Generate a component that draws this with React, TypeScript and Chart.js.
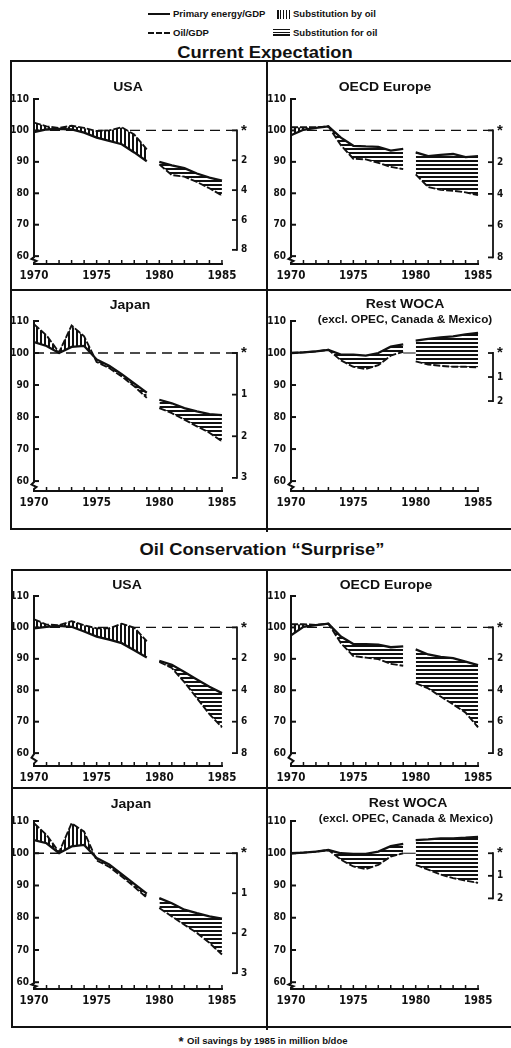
import React, { useEffect, useRef } from "react";
import { Chart, registerables } from "chart.js";

Chart.register(...registerables);

// ---------------- data ----------------
const years1 = [1970, 1971, 1972, 1973, 1974, 1975, 1976, 1977, 1978, 1979];
const years2 = [1980, 1981, 1982, 1983, 1984, 1985];
const xTickYears = [1970, 1975, 1980, 1985];
const yTickValues = [60, 70, 80, 90, 100, 110];
const savingsTicksLarge = [0, 2, 4, 6, 8];
const savingsTicksJapan = [0, 1, 2, 3];
const savingsTicksWoca = [0, 1, 2];
const referenceLevel = 100;

// Current expectation
const usaCurEnergy1 = [99.5, 100.3, 100.5, 100.3, 99.3, 97.7, 96.7, 95.6, 93.0, 90.2];
const usaCurOil1 = [102.5, 101.3, 100.8, 101.5, 100.8, 99.8, 100.0, 101.0, 98.7, 94.0];
const usaCurEnergy2 = [90.0, 88.9, 88.0, 86.3, 85.0, 84.0];
const usaCurOil2 = [89.2, 85.8, 85.3, 83.6, 81.6, 79.3];

const eurCurEnergy1 = [98.5, 100.2, 100.8, 101.3, 97.7, 95.1, 94.9, 94.8, 93.6, 94.1];
const eurCurOil1 = [101.0, 101.0, 101.0, 101.3, 95.3, 91.0, 90.8, 89.7, 88.4, 87.7];
const eurCurEnergy2 = [93.0, 91.8, 92.2, 92.5, 91.5, 91.8];
const eurCurOil2 = [86.0, 82.0, 81.1, 80.8, 80.3, 79.4];

const jpnCurEnergy1 = [103.4, 102.2, 100.0, 101.9, 102.2, 98.0, 96.0, 93.4, 90.5, 87.6];
const jpnCurOil1 = [109.0, 105.5, 100.2, 108.6, 105.2, 97.2, 95.3, 92.7, 89.6, 86.0];
const jpnCurEnergy2 = [85.4, 84.3, 82.8, 81.8, 80.9, 80.6];
const jpnCurOil2 = [82.8, 81.2, 79.2, 77.1, 75.1, 72.4];

const wocCurEnergy1 = [100.0, 100.2, 100.5, 101.0, 99.5, 99.5, 99.2, 100.0, 102.0, 102.7];
const wocCurOil1 = [100.0, 100.2, 100.5, 101.0, 97.7, 95.7, 95.0, 96.2, 99.2, 100.4];
const wocCurEnergy2 = [103.9, 104.4, 104.9, 105.2, 105.8, 106.3];
const wocCurOil2 = [97.4, 96.4, 96.0, 95.7, 95.7, 95.5];

// Oil conservation "surprise"
const usaSurEnergy1 = [99.7, 100.2, 100.5, 100.2, 98.7, 97.1, 96.1, 95.0, 92.7, 90.4];
const usaSurOil1 = [102.6, 100.9, 100.7, 102.0, 100.7, 99.7, 99.7, 101.2, 99.9, 95.6];
const usaSurEnergy2 = [89.4, 88.1, 85.8, 83.4, 81.1, 79.1];
const usaSurOil2 = [89.0, 87.1, 82.6, 77.5, 72.4, 68.2];

const eurSurEnergy1 = [97.5, 100.2, 100.7, 101.2, 97.1, 94.7, 94.7, 94.5, 93.7, 94.0];
const eurSurOil1 = [101.0, 101.0, 100.8, 101.2, 95.0, 90.9, 90.4, 89.9, 88.4, 87.8];
const eurSurEnergy2 = [93.0, 91.4, 90.6, 90.2, 89.1, 88.0];
const eurSurOil2 = [82.3, 80.6, 78.0, 75.5, 72.9, 68.2];

const jpnSurEnergy1 = [104.1, 103.1, 100.0, 102.1, 102.6, 98.5, 96.5, 93.5, 90.5, 87.5];
const jpnSurOil1 = [109.3, 105.7, 100.3, 109.3, 106.7, 97.8, 95.8, 92.8, 89.6, 86.2];
const jpnSurEnergy2 = [86.1, 84.5, 82.5, 81.4, 80.4, 79.7];
const jpnSurOil2 = [83.0, 80.4, 77.8, 75.3, 72.2, 68.6];

const wocSurEnergy1 = [100.0, 100.2, 100.5, 101.0, 100.0, 99.8, 99.8, 100.5, 102.2, 102.9];
const wocSurOil1 = [100.0, 100.2, 100.5, 101.0, 98.0, 95.9, 95.1, 96.4, 99.0, 100.0];
const wocSurEnergy2 = [104.1, 104.3, 104.6, 104.6, 104.8, 105.1];
const wocSurOil2 = [96.4, 94.9, 93.4, 92.3, 91.5, 90.8];

const legendEnergy = "Primary energy/GDP";
const legendOil = "Oil/GDP";
const legendBy = "Substitution by oil";
const legendFor = "Substitution for oil";
const sectionTitles = ["Current Expectation", "Oil Conservation \u201cSurprise\u201d"];
const footnote = "Oil savings by 1985 in million b/doe";

// ---------------- layout / style ----------------
const INK = "#111111";
const XMAX = 1986.2;
const SANS = "'Liberation Sans', Arial, Helvetica, sans-serif";
const NARROW = "'Liberation Sans Narrow', 'DejaVu Sans Condensed', 'Liberation Sans', sans-serif";

type PanelSpec = {
  id: string;
  titles: { text: string; x: number; y: number; size: number }[];
  left: number;
  top: number;
  width: number;
  height: number;
  plotLeft: number;
  plotRight: number;
  plotTop: number;
  plotBottom: number;
  yMin: number;
  k: number;
  savings: number[];
  refDashed: boolean;
  e1: number[];
  o1: number[];
  e2: number[];
  o2: number[];
};

const colL = { left: 0, width: 266, plotLeft: 34, plotRight: 237 };
const colR = { left: 262, width: 249, plotLeft: 291, plotRight: 493 };
const row1 = { top: 88, height: 198, plotTop: 96, plotBottom: 264, yMin: 57.5 };
const row2 = { top: 310, height: 203, plotTop: 318, plotBottom: 491, yMin: 56.9 };
const row3 = { top: 585, height: 203, plotTop: 593, plotBottom: 766, yMin: 55.9 };
const row4 = { top: 810, height: 201, plotTop: 818, plotBottom: 989, yMin: 57.9 };

const panels: PanelSpec[] = [
  {
    id: "usaCur", titles: [{ text: "USA", x: 128, y: 87, size: 12.5 }], ...colL, ...row1,
    k: 4.75, savings: savingsTicksLarge, refDashed: true,
    e1: usaCurEnergy1, o1: usaCurOil1, e2: usaCurEnergy2, o2: usaCurOil2,
  },
  {
    id: "eurCur", titles: [{ text: "OECD Europe", x: 385, y: 87, size: 12.5 }], ...colR, ...row1,
    k: 5.05, savings: savingsTicksLarge, refDashed: true,
    e1: eurCurEnergy1, o1: eurCurOil1, e2: eurCurEnergy2, o2: eurCurOil2,
  },
  {
    id: "jpnCur", titles: [{ text: "Japan", x: 130, y: 305, size: 12.5 }], ...colL, ...row2,
    k: 13, savings: savingsTicksJapan, refDashed: true,
    e1: jpnCurEnergy1, o1: jpnCurOil1, e2: jpnCurEnergy2, o2: jpnCurOil2,
  },
  {
    id: "wocCur",
    titles: [
      { text: "Rest WOCA", x: 405, y: 304, size: 12.5 },
      { text: "(excl. OPEC, Canada & Mexico)", x: 405, y: 319, size: 10.5 },
    ],
    ...colR, ...row2,
    k: 7.5, savings: savingsTicksWoca, refDashed: false,
    e1: wocCurEnergy1, o1: wocCurOil1, e2: wocCurEnergy2, o2: wocCurOil2,
  },
  {
    id: "usaSur", titles: [{ text: "USA", x: 127, y: 585, size: 12.5 }], ...colL, ...row3,
    k: 5, savings: savingsTicksLarge, refDashed: true,
    e1: usaSurEnergy1, o1: usaSurOil1, e2: usaSurEnergy2, o2: usaSurOil2,
  },
  {
    id: "eurSur", titles: [{ text: "OECD Europe", x: 386, y: 585, size: 12.5 }], ...colR, ...row3,
    k: 5, savings: savingsTicksLarge, refDashed: true,
    e1: eurSurEnergy1, o1: eurSurOil1, e2: eurSurEnergy2, o2: eurSurOil2,
  },
  {
    id: "jpnSur", titles: [{ text: "Japan", x: 131, y: 804, size: 12.5 }], ...colL, ...row4,
    k: 12.4, savings: savingsTicksJapan, refDashed: true,
    e1: jpnSurEnergy1, o1: jpnSurOil1, e2: jpnSurEnergy2, o2: jpnSurOil2,
  },
  {
    id: "wocSur",
    titles: [
      { text: "Rest WOCA", x: 408, y: 803, size: 12.5 },
      { text: "(excl. OPEC, Canada & Mexico)", x: 406, y: 818, size: 10.5 },
    ],
    ...colR, ...row4,
    k: 7, savings: savingsTicksWoca, refDashed: false,
    e1: wocSurEnergy1, o1: wocSurOil1, e2: wocSurEnergy2, o2: wocSurOil2,
  },
];

function makeHatch(vertical: boolean): CanvasPattern | string {
  const c = document.createElement("canvas");
  c.width = 4;
  c.height = 4;
  const g = c.getContext("2d");
  if (!g) return "#888";
  g.fillStyle = "#ffffff";
  g.fillRect(0, 0, 4, 4);
  g.fillStyle = INK;
  if (vertical) g.fillRect(0, 0, 2, 4);
  else g.fillRect(0, 0, 4, 2);
  return g.createPattern(c, "repeat") || "#888";
}

function makeDeco(spec: PanelSpec) {
  return {
    id: "axisDeco",
    afterDraw(chart: any) {
      const { ctx, chartArea } = chart;
      const xs = chart.scales.x;
      const ys = chart.scales.y;
      const ys2 = chart.scales.y2;
      const ax = xs.getPixelForValue(1970);
      const bottom = chartArea.bottom;
      const yTop = ys.getPixelForValue(110);
      const y60 = ys.getPixelForValue(60);
      ctx.save();
      ctx.strokeStyle = INK;
      ctx.lineWidth = 2;
      ctx.lineCap = "butt";
      const gap = bottom - y60;
      ctx.beginPath();
      ctx.moveTo(ax, yTop - 1);
      ctx.lineTo(ax, y60 + 1);
      ctx.lineTo(ax - 2.5, y60 + gap * 0.35);
      ctx.lineTo(ax + 2.5, y60 + gap * 0.6);
      ctx.lineTo(ax, y60 + gap * 0.8);
      ctx.lineTo(ax, bottom);
      ctx.stroke();
      for (const v of yTickValues) {
        const py = ys.getPixelForValue(v);
        ctx.beginPath();
        ctx.moveTo(ax, py);
        ctx.lineTo(ax + 5, py);
        ctx.stroke();
      }
      const x85 = xs.getPixelForValue(1985);
      ctx.beginPath();
      ctx.moveTo(ax - 1, bottom);
      ctx.lineTo(x85 + 1, bottom);
      ctx.stroke();
      ctx.lineWidth = 1.5;
      for (let yr = 1971; yr <= 1985; yr++) {
        const px = xs.getPixelForValue(yr);
        ctx.beginPath();
        ctx.moveTo(px, bottom);
        ctx.lineTo(px, bottom - 4);
        ctx.stroke();
      }
      const rx = chartArea.right;
      const t = spec.savings;
      const r0 = ys2.getPixelForValue(t[0]);
      const r1 = ys2.getPixelForValue(t[t.length - 1]);
      ctx.lineWidth = 1.8;
      ctx.beginPath();
      ctx.moveTo(rx, r0 - 0.9);
      ctx.lineTo(rx, r1 + 0.9);
      ctx.stroke();
      for (const v of t) {
        const py = ys2.getPixelForValue(v);
        ctx.beginPath();
        ctx.moveTo(rx - 5, py);
        ctx.lineTo(rx, py);
        ctx.stroke();
      }
      ctx.restore();
    },
  };
}

function PanelChart({ spec }: { spec: PanelSpec }) {
  const ref = useRef<HTMLCanvasElement>(null);
  useEffect(() => {
    const canvas = ref.current;
    if (!canvas) return;
    const hatchV = makeHatch(true);
    const hatchH = makeHatch(false);
    const pts = (xs: number[], ys: number[]) => xs.map((x, i) => ({ x, y: ys[i] }));
    const base = { pointRadius: 0, pointHoverRadius: 0, tension: 0, xAxisID: "x", yAxisID: "y" };
    const energyStyle = { ...base, borderColor: INK, borderWidth: 2.3, order: 1 };
    const oilStyle = { ...base, borderColor: INK, borderWidth: 1.9, borderDash: [7, 2], fill: false, order: 0 };
    const refData = spec.refDashed
      ? [{ x: 1970, y: referenceLevel }, { x: XMAX, y: referenceLevel }]
      : [{ x: 1979, y: referenceLevel }, { x: 1980, y: referenceLevel }];
    const datasets: any[] = [
      { ...energyStyle, label: legendEnergy, data: pts(years1, spec.e1), fill: { target: 1, above: hatchH, below: hatchV } },
      { ...oilStyle, label: legendOil, data: pts(years1, spec.o1) },
      { ...energyStyle, label: legendEnergy, data: pts(years2, spec.e2), fill: { target: 3, above: hatchH, below: hatchV } },
      { ...oilStyle, label: legendOil, data: pts(years2, spec.o2) },
      {
        ...base, label: "ref", data: refData, borderColor: INK,
        borderWidth: spec.refDashed ? 1.3 : 1, borderDash: spec.refDashed ? [10, 6] : [], fill: false, order: 2,
      },
    ];
    const tickFontY = { family: NARROW, size: 10, weight: "bold" as const };
    const tickFontX = { family: NARROW, size: 11.5, weight: "bold" as const };
    const starFont = { family: SANS, size: 15, weight: "bold" as const };
    const chart = new Chart(canvas, {
      type: "line",
      data: { datasets },
      options: {
        animation: false,
        responsive: false,
        maintainAspectRatio: false,
        events: [],
        layout: { padding: { top: spec.plotTop - spec.top, left: 0, right: 0, bottom: 0 } },
        plugins: { legend: { display: false }, tooltip: { enabled: false }, title: { display: false } },
        scales: {
          x: {
            type: "linear",
            min: 1970,
            max: XMAX,
            grid: { display: false, drawTicks: false },
            border: { display: false },
            afterBuildTicks: (s: any) => {
              s.ticks = xTickYears.map((v) => ({ value: v }));
            },
            afterFit: (s: any) => {
              s.height = spec.top + spec.height - spec.plotBottom;
            },
            ticks: {
              autoSkip: false,
              maxRotation: 0,
              padding: 5,
              color: INK,
              font: tickFontX,
              callback: (v: any) => String(v),
            },
          },
          y: {
            type: "linear",
            position: "left",
            min: spec.yMin,
            max: 110,
            grid: { display: false, drawTicks: false },
            border: { display: false },
            afterBuildTicks: (s: any) => {
              s.ticks = yTickValues.map((v) => ({ value: v }));
            },
            afterFit: (s: any) => {
              s.width = spec.plotLeft - spec.left;
            },
            ticks: { autoSkip: false, padding: 5, color: INK, font: tickFontY, callback: (v: any) => String(v) },
          },
          y2: {
            type: "linear",
            position: "right",
            reverse: true,
            min: (referenceLevel - 110) / spec.k,
            max: (referenceLevel - spec.yMin) / spec.k,
            grid: { display: false, drawTicks: false },
            border: { display: false },
            afterBuildTicks: (s: any) => {
              s.ticks = spec.savings.map((v) => ({ value: v }));
            },
            afterFit: (s: any) => {
              s.width = spec.left + spec.width - spec.plotRight;
            },
            ticks: {
              autoSkip: false,
              padding: 4,
              color: INK,
              font: (c: any) => (c && c.tick && c.tick.value === 0 ? starFont : tickFontY),
              callback: (v: any) => (v === 0 ? "*" : String(v)),
            },
          },
        },
      } as any,
      plugins: [makeDeco(spec)],
    });
    return () => chart.destroy();
  }, [spec]);
  return (
    <canvas
      ref={ref}
      width={spec.width}
      height={spec.height}
      style={{ position: "absolute", left: spec.left, top: spec.top, width: spec.width, height: spec.height }}
    />
  );
}

function Text({ x, y, text, size, sx = 1, align = "center" }: { x: number; y: number; text: string; size: number; sx?: number; align?: "center" | "left" }) {
  const tr = align === "center" ? `translate(-50%, -50%) scaleX(${sx})` : `translateY(-50%) scaleX(${sx})`;
  return (
    <div
      style={{
        position: "absolute",
        left: x,
        top: y,
        transform: tr,
        transformOrigin: align === "center" ? "50% 50%" : "0 50%",
        whiteSpace: "nowrap",
        fontFamily: SANS,
        fontWeight: "bold",
        fontSize: size,
        lineHeight: 1,
        color: INK,
      }}
    >
      {text}
    </div>
  );
}

function HLine({ x1, x2, y, w = 2 }: { x1: number; x2: number; y: number; w?: number }) {
  return <div style={{ position: "absolute", left: x1, top: y - w / 2, width: x2 - x1, height: w, background: INK }} />;
}
function VLine({ x, y1, y2, w = 2 }: { x: number; y1: number; y2: number; w?: number }) {
  return <div style={{ position: "absolute", left: x - w / 2, top: y1, width: w, height: y2 - y1, background: INK }} />;
}

export default function App() {
  return (
    <div
      style={{
        position: "absolute",
        left: 0,
        top: 0,
        width: 511,
        height: 1048,
        background: "#ffffff",
        overflow: "hidden",
      }}
    >
      {/* legend */}
      <HLine x1={148} x2={170} y={14} w={2} />
      <Text x={173} y={14} text={legendEnergy} size={9.5} align="left" />
      <div
        style={{
          position: "absolute", left: 277, top: 10, width: 13, height: 9,
          background: `repeating-linear-gradient(90deg, ${INK} 0 1.5px, #fff 1.5px 3px)`,
        }}
      />
      <Text x={293} y={14} text={legendBy} size={9.5} align="left" />
      <div
        style={{
          position: "absolute", left: 148, top: 31.5, width: 22, height: 0,
          borderTop: `2px dashed ${INK}`,
        }}
      />
      <Text x={173} y={32.5} text={legendOil} size={9.5} align="left" />
      <div
        style={{
          position: "absolute", left: 273, top: 29, width: 17, height: 7,
          background: `repeating-linear-gradient(180deg, ${INK} 0 1.3px, #fff 1.3px 2.6px)`,
        }}
      />
      <Text x={293} y={32.5} text={legendFor} size={9.5} align="left" />

      {/* section titles */}
      <Text x={265} y={52} text={sectionTitles[0]} size={17} sx={1.08} />
      <Text x={262} y={549} text={sectionTitles[1]} size={17} sx={1.08} />

      {panels.map((p) => (
        <React.Fragment key={p.id}>
          <PanelChart spec={p} />
          {p.titles.map((t, i) => (
            <Text key={i} x={t.x} y={t.y} text={t.text} size={t.size} sx={1.12} />
          ))}
        </React.Fragment>
      ))}

      {/* frames */}
      <HLine x1={10} x2={511} y={61} />
      <HLine x1={10} x2={511} y={290} />
      <HLine x1={10} x2={511} y={529} />
      <VLine x={11} y1={60} y2={530} />
      <VLine x={267} y1={60} y2={532} />

      <HLine x1={11} x2={511} y={570} />
      <HLine x1={11} x2={511} y={788} />
      <HLine x1={11} x2={511} y={1027} />
      <VLine x={12} y1={569} y2={1028} />
      <VLine x={267} y1={569} y2={1030} />

      {/* footnote */}
      <Text x={181} y={1041} text="*" size={13} align="center" />
      <Text x={187} y={1041} text={footnote} size={9.5} align="left" />
    </div>
  );
}
